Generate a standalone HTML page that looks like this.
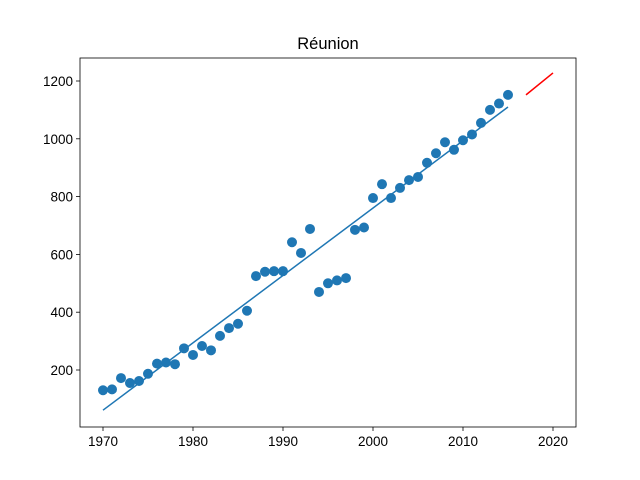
<!DOCTYPE html>
<html><head><meta charset="utf-8"><style>body{margin:0;background:#fff}svg{display:block;font-family:"Liberation Sans","DejaVu Sans",sans-serif}</style></head>
<body>
<svg id="chart" width="640" height="480" xmlns="http://www.w3.org/2000/svg">
<rect width="640" height="480" fill="#fff"/>
<text x="328" y="49" font-size="16.5" text-anchor="middle">Réunion</text>
<g id="plot"></g>
</svg>
<script>
const years=[1970,1971,1972,1973,1974,1975,1976,1977,1978,1979,1980,1981,1982,1983,1984,1985,1986,1987,1988,1989,1990,1991,1992,1993,1994,1995,1996,1997,1998,1999,2000,2001,2002,2003,2004,2005,2006,2007,2008,2009,2010,2011,2012,2013,2014,2015];
const values=[130,133,172,155,162,187,222,226,220,275,252,283,268,318,345,360,405,525,540,542,542,642,605,688,470,500,510,518,685,693,795,843,795,830,857,868,917,950,988,962,995,1015,1055,1100,1122,1152];
const fitLine=[[1970,61],[2015,1110]];
const forecastLine=[[2017,1152],[2020,1228]];
const xTicks=[1970,1980,1990,2000,2010,2020];
const yTicks=[200,400,600,800,1000,1200];
const NS='http://www.w3.org/2000/svg';
const L=80,R=576,T=58,B=427;
const x=v=>103+(v-1970)*9;
const y=v=>427.8-v*0.289;
const g=document.getElementById('plot');
function mk(t,a){const e=document.createElementNS(NS,t);for(const k in a)e.setAttribute(k,a[k]);g.appendChild(e);return e;}
xTicks.forEach(t=>{
 const l=mk('line',{x1:x(t),x2:x(t),y1:B,y2:B+4,stroke:'#000','stroke-width':0.8});
 
 
 const tx=mk('text',{x:x(t),y:B+19,'font-size':13.5,'text-anchor':'middle'});tx.textContent=t;
 
 
});
yTicks.forEach(t=>{
 const l=mk('line',{x1:L-4,x2:L,y1:y(t),y2:y(t),stroke:'#000','stroke-width':0.8});
 
 
 const tx=mk('text',{x:L-7,y:y(t)+5,'font-size':13.5,'text-anchor':'end'});tx.textContent=t;
 
 
});
years.forEach((yr,i)=>{
 const c=mk('circle',{cx:x(yr),cy:y(values[i]),r:5,fill:'#1f77b4'});
 
 
});
const f=mk('line',{x1:x(fitLine[0][0]),y1:y(fitLine[0][1]),x2:x(fitLine[1][0]),y2:y(fitLine[1][1]),stroke:'#1f77b4','stroke-width':1.5});


const p=mk('line',{x1:x(forecastLine[0][0]),y1:y(forecastLine[0][1]),x2:x(forecastLine[1][0]),y2:y(forecastLine[1][1]),stroke:'red','stroke-width':1.5});


const fr=mk('rect',{x:L,y:T,width:R-L,height:B-T,fill:'none',stroke:'#000','stroke-width':0.8});


</script>
</body></html>
